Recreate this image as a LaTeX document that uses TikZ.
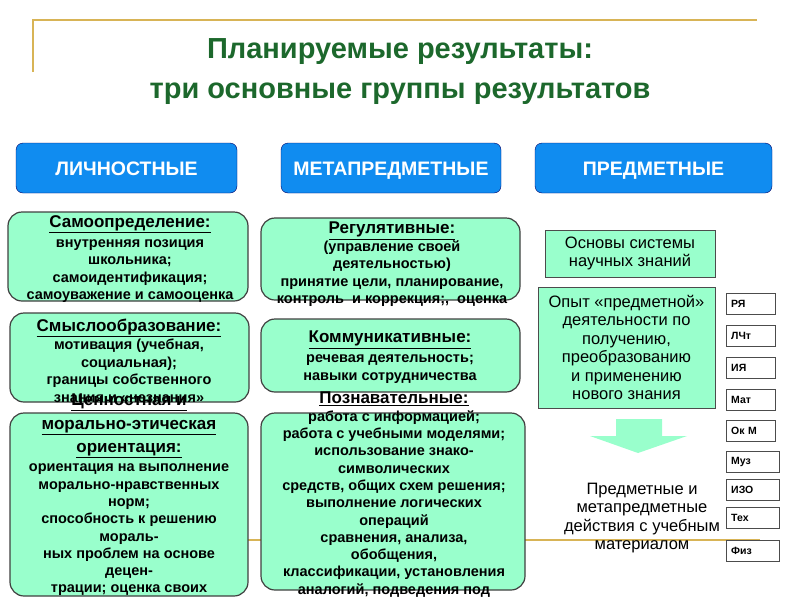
\documentclass[tikz,border=0pt]{standalone}
\usepackage{fontspec}
\setmainfont{Liberation Sans}
\usetikzlibrary{positioning}
\definecolor{hdrblue}{RGB}{16,140,240}
\definecolor{mint}{RGB}{153,255,204}
\definecolor{gold}{RGB}{216,180,86}
\definecolor{titlegreen}{RGB}{28,104,44}
\newcommand{\fsz}[2]{\fontsize{#1}{#2}\selectfont}
\newcommand{\hd}[1]{{\fsz{17}{20}\underline{#1}}}

\begin{document}
\begin{tikzpicture}[x=1pt, y=-1pt,
    header/.style={rectangle, rounded corners=7, draw=blue!40!black, fill=hdrblue,
      text=white, font=\fsz{19.5}{22}\bfseries, minimum height=50, inner sep=0,
      text height=14, text depth=0},
    greenbox/.style={rectangle, rounded corners=14, draw=black!75, line width=1.2,
      fill=mint, inner sep=0},
    boxtext/.style={align=center, inner sep=0, anchor=north, font=\fsz{14.5}{17.5}\bfseries},
    plainbox/.style={rectangle, draw=black!70, fill=mint, align=center,
      font=\fsz{16.5}{18.5}, inner sep=0},
    subj/.style={rectangle, draw=black!70, fill=white, minimum height=21, text width=#1,
      align=left, inner xsep=5, anchor=west, font=\fsz{10.5}{12}\bfseries}
  ]
    \useasboundingbox (0,0) rectangle (800,600);
    % slide frame lines
    \draw [gold, line width=2] (33,72) -- (33,20) -- (757,20);
    \draw [gold, line width=2] (33,540) -- (760,540);

    % title
    \node [font=\fsz{29}{40}\bfseries, text=titlegreen, align=center] (title) at (400,72)
      {Планируемые результаты:\\ три основные группы результатов};

    % three groups
    \node [header, minimum width=221] (pers) at (126.5,168) {ЛИЧНОСТНЫЕ};
    \node [header, minimum width=220] (meta) at (391,168) {МЕТАПРЕДМЕТНЫЕ};
    \node [header, minimum width=237] (subjh) at (653.5,168) {ПРЕДМЕТНЫЕ};

    % personal results
    \node [greenbox, minimum width=240, minimum height=89] (self) at (128,256.5) {};
    \node [boxtext] (selftxt) at (130,215)
      {\hd{Самоопределение:}\\[2.5] внутренняя позиция\\ школьника;\\
       самоидентификация;\\ самоуважение и самооценка};
    \node [greenbox, minimum width=239, minimum height=89] (sense) at (129.5,357.5) {};
    \node [boxtext] (sensetxt) at (129,319)
      {\hd{Смыслообразование:}\\[0.5] мотивация (учебная,\\ социальная);\\
       границы собственного\\ знания и «незнания»};
    \node [greenbox, minimum width=238, minimum height=183] (moral) at (129,504.5) {};
    \node [boxtext, font=\fsz{14.5}{17.3}\bfseries] (moraltxt) at (129,394)
      {\hd{Ценностная и}\\[6] \hd{морально-этическая}\\[6] \hd{ориентация:}\\[2]
       ориентация на выполнение\\ морально-нравственных\\ норм;\\
       способность к решению\\ мораль-\\ ных проблем на основе\\ децен-\\
       трации; оценка своих};

    % meta-subject results
    \node [greenbox, minimum width=259, minimum height=82] (reg) at (390.5,259) {};
    \node [boxtext] (regtxt) at (392,222)
      {\hd{Регулятивные:}\\ (управление своей\\ деятельностью)\\
       принятие цели, планирование,\\ контроль\ \ и коррекция;,\ \ оценка};
    \node [greenbox, minimum width=259, minimum height=73] (comm) at (390.5,355.5) {};
    \node [boxtext] (commtxt) at (390,331)
      {\hd{Коммуникативные:}\\[2.5] речевая деятельность;\\ навыки сотрудничества};
    \node [greenbox, minimum width=264, minimum height=177] (cogn) at (393,501.5) {};
    \node [boxtext, font=\fsz{14.5}{17.3}\bfseries] (cogntxt) at (394,392)
      {\hd{Познавательные:}\\ работа с информацией;\\ работа с учебными моделями;\\
       использование знако-\\ символических\\ средств, общих схем решения;\\
       выполнение логических\\ операций\\ сравнения, анализа,\\ обобщения,\\
       классификации, установления\\ аналогий, подведения под};

    % subject results
    \node [plainbox, minimum width=170, minimum height=47] (base) at (630,253.5)
      {Основы системы\\ научных знаний};
    \node [plainbox, minimum width=177, minimum height=121] (exp) at (626.5,347.5)
      {Опыт «предметной»\\ деятельности по\\ получению,\\ преобразованию\\
       и применению\\ нового знания};
    \fill [mint] (616,419) -- (662,419) -- (662,436) -- (687,436) -- (638,453)
      -- (590,436) -- (616,436) -- cycle;
    \node [font=\fsz{16.5}{18.5}, align=center] (acts) at (642,518)
      {Предметные и\\ метапредметные\\ действия с учебным\\ материалом};

    \foreach \lbl/\yc/\w [count=\i] in {РЯ/303.5/39, ЛЧт/336/39, ИЯ/367.5/39,
        Мат/399.5/39, Ок М/431/39, Муз/462/43, ИЗО/489.5/43, Тех/517.5/43, Физ/550.5/43}
      \node [subj=\w] (s\i) at (726,\yc) {\lbl};
  \end{tikzpicture}
\end{document}
